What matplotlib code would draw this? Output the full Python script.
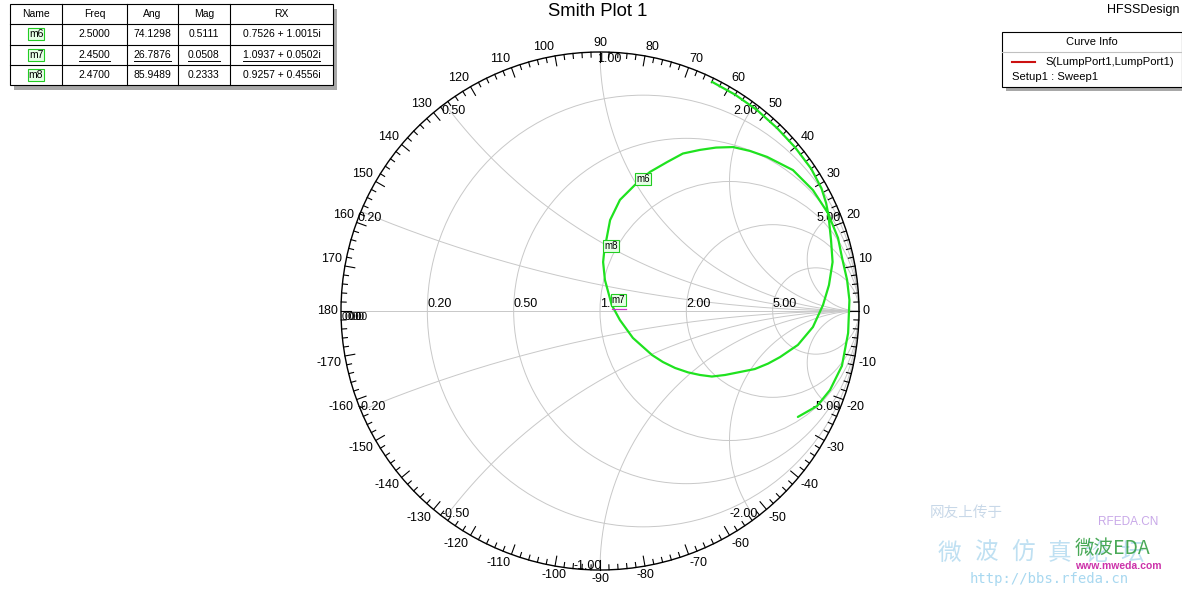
import numpy as np
import matplotlib
matplotlib.use("Agg")
from matplotlib import pyplot as plt
from matplotlib.patches import Circle, Rectangle
from matplotlib.lines import Line2D

plt.rcParams["font.family"] = ["Liberation Sans", "DejaVu Sans"]

# S(LumpPort1,LumpPort1) trace, reflection coefficient
gamma_re = [0.432, 0.522, 0.606, 0.683, 0.753, 0.815, 0.855, 0.873, 0.882,
            0.892, 0.898, 0.884, 0.861, 0.822, 0.764, 0.695, 0.649, 0.598,
            0.483, 0.432, 0.386, 0.340, 0.290, 0.243, 0.201, 0.127, 0.077,
            0.0454, 0.019, 0.012, 0.0165, 0.039, 0.077, 0.1397, 0.193, 0.259,
            0.320, 0.386, 0.448, 0.514, 0.579, 0.645, 0.745, 0.822, 0.880,
            0.919, 0.934, 0.954, 0.963, 0.958, 0.934, 0.888, 0.838, 0.764]
gamma_im = [0.885, 0.835, 0.776, 0.707, 0.632, 0.550, 0.474, 0.417, 0.371,
            0.274, 0.189, 0.100, 0.023, -0.062, -0.131, -0.178, -0.203, -0.224,
            -0.247, -0.253, -0.247, -0.237, -0.220, -0.197, -0.170, -0.104,
            -0.035, 0.0229, 0.120, 0.189, 0.2327, 0.351, 0.429, 0.4916, 0.537,
            0.575, 0.608, 0.622, 0.631, 0.633, 0.618, 0.595, 0.544, 0.467,
            0.378, 0.282, 0.208, 0.120, 0.042, -0.085, -0.212, -0.305, -0.367,
            -0.409]

# marker table
marker_names = ["m6", "m7", "m8"]
marker_freq = [2.5, 2.45, 2.47]
marker_ang = [74.1298, 26.7876, 85.9489]
marker_mag = [0.5111, 0.0508, 0.2333]
marker_rx = ["0.7526 + 1.0015i", "1.0937 + 0.0502i", "0.9257 + 0.4556i"]

grid_values = [0.2, 0.5, 1.0, 2.0, 5.0]
angle_labels = list(range(-170, 190, 10))

W, H = 1182, 595
cx, cy, R = 600, 311, 259
grid_col = "#c8c8c8"
green = "#1fe21f"

fig = plt.figure(figsize=(W / 100, H / 100), dpi=100)
ax = fig.add_axes([0, 0, 1, 1])
ax.set_xlim(-cx / R, (W - cx) / R)
ax.set_ylim(-(H - cy) / R, cy / R)
ax.axis("off")


def px(dx):
    return dx / R


def fx(x):
    return x / W


def fy(y):
    return 1 - y / H


# grid: resistance circles and reactance arcs
for v in grid_values:
    ax.add_patch(Circle((v / (1 + v), 0), 1 / (1 + v), fill=False,
                        ec=grid_col, lw=0.7, zorder=1))
rr = np.concatenate([[0], np.geomspace(1e-3, 1e4, 800)])
for v in grid_values:
    for s in (1, -1):
        z = rr + 1j * s * v
        g = (z - 1) / (z + 1)
        ax.plot(g.real, g.imag, color=grid_col, lw=0.7, zorder=1)
ax.plot([-1, 1], [0, 0], color=grid_col, lw=0.7, zorder=1)

# rim and angle ticks
ax.add_patch(Circle((0, 0), 1, fill=False, ec="black", lw=1.0, zorder=3))
for a in range(0, 360, 2):
    t = np.radians(a)
    ln = px(10) if a % 10 == 0 else px(5)
    ax.plot([np.cos(t), (1 - ln) * np.cos(t)], [np.sin(t), (1 - ln) * np.sin(t)],
            color="black", lw=0.8, zorder=3)

for a in angle_labels:
    t = np.radians(a)
    c, s = np.cos(t), np.sin(t)
    ha = "left" if c > 0.1 else ("right" if c < -0.1 else "center")
    if s < -0.95:
        ha = "center"
    va = "bottom" if s > 0.1 else ("top" if s < -0.1 else "center")
    ax.text(1.012 * c, 1.012 * s, str(a), ha=ha, va=va, fontsize=9)

# grid labels
for v in grid_values:
    g = (v - 1) / (v + 1)
    ax.text(g, px(1), "%.2f" % v, ha="left", va="bottom", fontsize=9, zorder=4)
    for s in (1, -1):
        zz = 1j * s * v
        g = (zz - 1) / (zz + 1)
        if s > 0:
            left = g.real <= 0.01
        else:
            left = g.real < -0.01
        ha = "left" if left else "right"
        dx = px(-3) if left else px(2)
        va = "top" if s > 0 else "bottom"
        dy = px(-1) if s > 0 else px(-2)
        ax.text(g.real + dx, g.imag + dy, "%.2f" % (s * v), ha=ha, va=va,
                fontsize=9, zorder=4)
for k in range(3):
    ax.text(-1 + px(1 + 3 * k), px(-1), "0.00", ha="left", va="top", fontsize=7.5)

# trace
ax.plot(gamma_re, gamma_im, color=green, lw=1.6, zorder=5,
        solid_capstyle="round", solid_joinstyle="round")

# markers on the trace
for name, mag, ang in zip(marker_names, marker_mag, marker_ang):
    g = mag * np.exp(1j * np.radians(ang))
    ax.text(g.real, g.imag, name, ha="left", va="bottom", fontsize=7, zorder=6,
            bbox=dict(boxstyle="square,pad=0.12", fc="#e6ffe6", ec="#22cc22", lw=0.8))
    if name == "m7":
        ax.plot([g.real, g.real + px(14)], [g.imag - px(4), g.imag - px(4)],
                color="#cc33cc", lw=0.9, zorder=6)

# title and design name
fig.text(fx(598), fy(12), "Smith Plot 1", ha="center", va="center", fontsize=13.3)
fig.text(fx(1107), fy(10), "HFSSDesign", ha="left", va="center", fontsize=9)

# marker table
cols = [10, 62, 127, 178, 230, 333]
rows = [4, 24, 44.5, 65, 85]
fig.patches.append(Rectangle((fx(cols[0] + 4), fy(rows[-1] + 5)),
                             (cols[-1] - cols[0]) / W, (rows[-1] - rows[0]) / H,
                             transform=fig.transFigure, fc="#a8a8a8", ec="none"))
fig.patches.append(Rectangle((fx(cols[0]), fy(rows[-1])),
                             (cols[-1] - cols[0]) / W, (rows[-1] - rows[0]) / H,
                             transform=fig.transFigure, fc="white", ec="black", lw=0.8))
for x in cols[1:-1]:
    fig.lines.append(Line2D([fx(x), fx(x)], [fy(rows[0]), fy(rows[-1])],
                            transform=fig.transFigure, color="black", lw=0.8))
for y in rows[1:-1]:
    fig.lines.append(Line2D([fx(cols[0]), fx(cols[-1])], [fy(y), fy(y)],
                            transform=fig.transFigure, color="black", lw=0.8))
headers = ["Name", "Freq", "Ang", "Mag", "RX"]
for i, h in enumerate(headers):
    fig.text(fx((cols[i] + cols[i + 1]) / 2), fy((rows[0] + rows[1]) / 2), h,
             ha="center", va="center", fontsize=7.5)
renderer = fig.canvas.get_renderer()
for j, name in enumerate(marker_names):
    yc = fy((rows[j + 1] + rows[j + 2]) / 2)
    cells = ["%.4f" % marker_freq[j], "%.4f" % marker_ang[j],
             "%.4f" % marker_mag[j], marker_rx[j]]
    fig.text(fx((cols[0] + cols[1]) / 2), yc, name, ha="center", va="center",
             fontsize=7.5,
             bbox=dict(boxstyle="square,pad=0.1", fc="#e6ffe6", ec="#22cc22", lw=0.8))
    for i, c in enumerate(cells):
        t = fig.text(fx((cols[i + 1] + cols[i + 2]) / 2), yc, c, ha="center",
                     va="center", fontsize=7.5)
        if name == "m7":
            bb = t.get_window_extent(renderer)
            yl = bb.y0 - 1
            fig.lines.append(Line2D([bb.x0 / W, bb.x1 / W], [yl / H, yl / H],
                                    transform=fig.transFigure, color="black", lw=0.7))

# curve info box
lx0, lx1, ly0, ly1 = 1001.7, 1181.5, 31.7, 87.3
fig.patches.append(Rectangle((fx(lx0 + 4), fy(ly1 + 4)), (lx1 - lx0) / W,
                             (ly1 - ly0) / H, transform=fig.transFigure,
                             fc="#a8a8a8", ec="none"))
fig.patches.append(Rectangle((fx(lx0), fy(ly1)), (lx1 - lx0) / W, (ly1 - ly0) / H,
                             transform=fig.transFigure, fc="white", ec="black", lw=0.8))
fig.lines.append(Line2D([fx(lx0), fx(lx1)], [fy(52.3), fy(52.3)],
                        transform=fig.transFigure, color="#c0c0c0", lw=0.8))
fig.text(fx(1092), fy(42.3), "Curve Info", ha="center", va="center", fontsize=8)
fig.lines.append(Line2D([fx(1011.7), fx(1035)], [fy(62.3), fy(62.3)],
                        transform=fig.transFigure, color="#cc1111", lw=1.5))
fig.text(fx(1045), fy(62.3), "S(LumpPort1,LumpPort1)", ha="left", va="center",
         fontsize=8.1)
fig.text(fx(1011.7), fy(77), "Setup1 : Sweep1", ha="left", va="center", fontsize=8.1)

# watermark
cjk = ["Noto Sans CJK SC", "DejaVu Sans"]
fig.text(fx(930), fy(513), "网友上传于", family=cjk, fontsize=10.5, color="#c8d8e8",
         ha="left", va="center")
for k, ch in enumerate("微波仿真论坛"):
    fig.text(fx(938 + 36.5 * k), fy(553), ch, family=cjk, fontsize=17,
             color="#bfe0f2", ha="left", va="center")
fig.text(fx(1098), fy(522), "RFEDA.CN", fontsize=8.5, color="#c8a8e8",
         ha="left", va="center")
fig.text(fx(1075), fy(548), "微波EDA", family=cjk, fontsize=14, color="#2a9a3a",
         ha="left", va="center", alpha=0.85)
fig.text(fx(1075), fy(566), "www.mweda.com", fontsize=7.5, color="#cc33aa",
         ha="left", va="center", fontweight="bold")
fig.text(fx(970), fy(579), "http://bbs.rfeda.cn", family=["DejaVu Sans Mono"],
         fontsize=10, color="#a8d8f0", ha="left", va="center")

fig.savefig("out.png", dpi=100)
